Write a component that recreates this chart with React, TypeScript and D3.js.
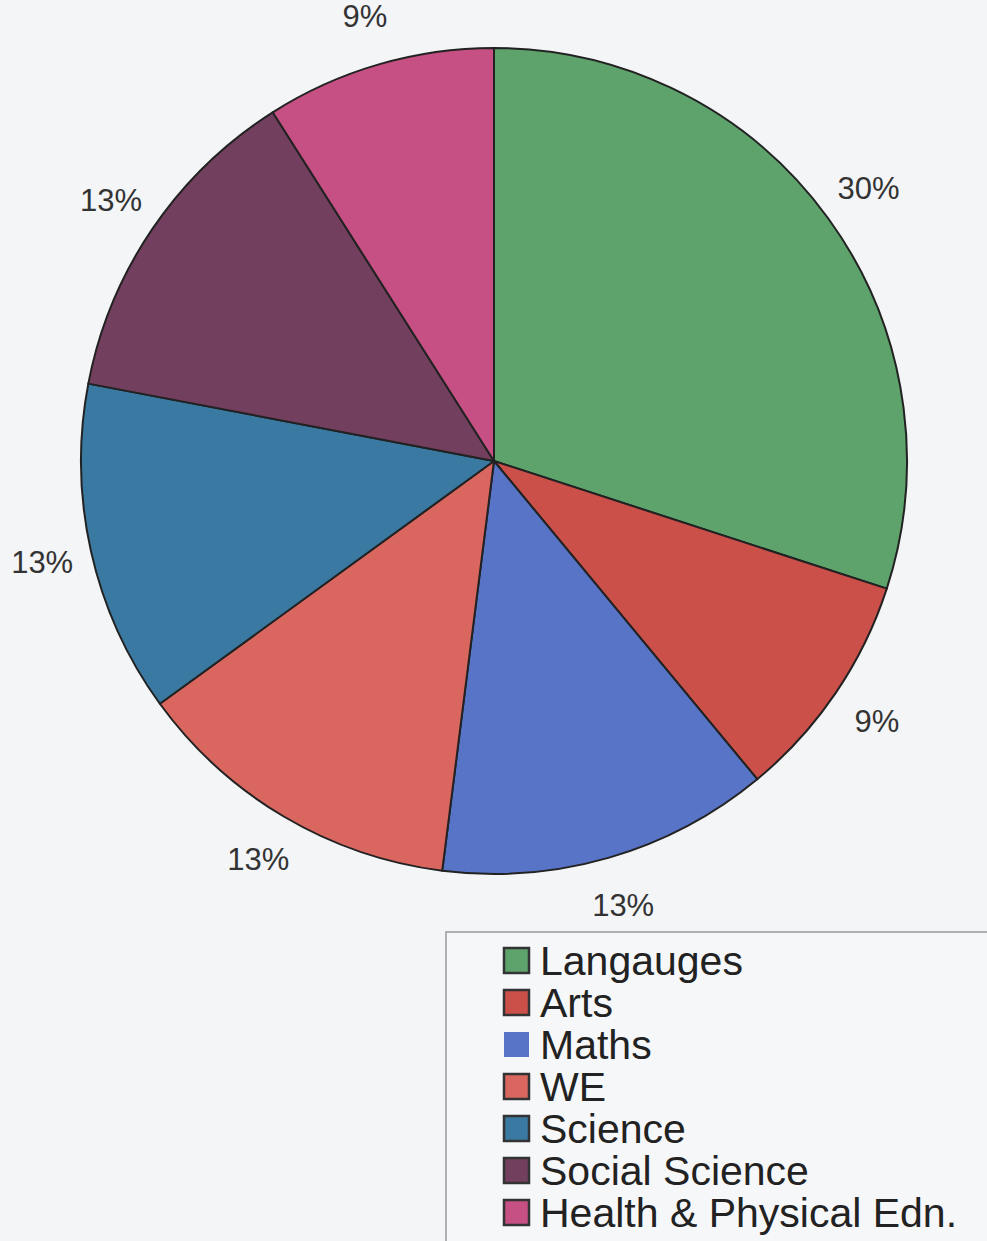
import React from "react";
import * as d3 from "d3";

const categories = ["Langauges", "Arts", "Maths", "WE", "Science", "Social Science", "Health & Physical Edn."];
const values = [30, 9, 13, 13, 13, 13, 9];
const labels = ["30%", "9%", "13%", "13%", "13%", "13%", "9%"];
const colors = ["#5ea36c", "#cc504a", "#5874c6", "#d9675f", "#3a7aa2", "#733f5f", "#c65083"];
const swatchBorder = [true, true, false, true, true, true, true];

export default function App() {
  const W = 987, H = 1241;
  const cx = 494, cy = 461, r = 413;
  const pie = d3.pie<number>().sort(null).value((d) => d)(values);
  const arc = d3.arc<d3.PieArcDatum<number>>().innerRadius(0).outerRadius(r);
  const labelArc = d3.arc<d3.PieArcDatum<number>>().innerRadius(463).outerRadius(463);
  const legendY = d3.scaleBand<string>().domain(categories).range([948, 1242]).paddingInner(0);
  return (
    <svg width={W} height={H} style={{ position: "absolute", left: 0, top: 0 }} fontFamily="Liberation Sans, Arial, sans-serif">
      <rect x={0} y={0} width={W} height={H} fill="#f4f5f7" />
      <g transform={`translate(${cx},${cy})`}>
        {pie.map((p, i) => (
          <path key={i} d={arc(p) || ""} fill={colors[i]} stroke="#222" strokeWidth={2} strokeLinejoin="round" />
        ))}
        {pie.map((p, i) => {
          const [x, y] = labelArc.centroid(p);
          return (
            <text key={i} x={x} y={y} textAnchor="middle" dominantBaseline="central" fontSize={31} fill="#333">
              {labels[i]}
            </text>
          );
        })}
      </g>
      <rect x={446} y={932} width={560} height={330} fill="#f6f7f9" stroke="#999" strokeWidth={1.5} />
      {categories.map((c, i) => {
        const y = legendY(c) as number;
        return (
          <g key={c}>
            <rect x={504} y={y} width={25} height={25} fill={colors[i]} stroke={swatchBorder[i] ? "#333" : "none"} strokeWidth={2.5} />
            <text x={540} y={y + 27} fontSize={41} fill="#222">{c}</text>
          </g>
        );
      })}
    </svg>
  );
}
